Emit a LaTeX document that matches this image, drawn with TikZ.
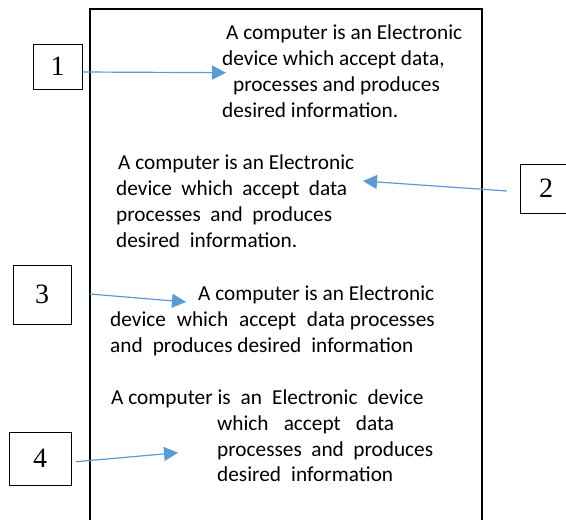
\documentclass[tikz,border=0pt]{standalone}
\usepackage{fontspec}
\setmainfont{Carlito}
\newfontfamily\numfont{Liberation Serif}
\usetikzlibrary{arrows.meta}
\definecolor{arrowblue}{RGB}{91,155,213}
% stretch the blanks of a line to a given width
\newcommand\stretchline[2]{\makebox[#1pt][s]{#2}}
% a doubled blank between words
\newcommand\wgap{\hspace{10pt}}

\begin{document}
\begin{tikzpicture}[x=1pt,y=-1pt,
  frame/.style={line width=1.8pt},
  numbox/.style={draw, line width=1pt, inner sep=0pt,
    font=\numfont\fontsize{28}{28}\selectfont},
  pointer/.style={draw=arrowblue, line width=1.2pt,
    -{Triangle[length=14pt,width=14pt]}},
  txt/.style={anchor=base west, inner sep=0pt,
    font=\fontsize{21.3}{26}\selectfont}]
\useasboundingbox (0,0) rectangle (566,520);
\begin{scope}
\clip (0,0) rectangle (566,520);

% page outline, open at the bottom
\draw[frame] (90,530) -- (90,9) -- (482,9) -- (482,530);

% numbered tags
\node[numbox, minimum width=49pt, minimum height=45pt] (n1) at (57.5,66.5) {1};
\node[numbox, minimum width=52pt, minimum height=49pt] (n2) at (546,188.5) {2};
\node[numbox, minimum width=58pt, minimum height=59pt] (n3) at (42,294.5) {3};
\node[numbox, minimum width=62pt, minimum height=53pt] (n4) at (40,458.5) {4};

% paragraph 1
\node[txt] (p1a) at (226,39)  {A computer is an Electronic};
\node[txt] (p1b) at (222,65)  {device which accept data,};
\node[txt] (p1c) at (233,91)  {processes and produces};
\node[txt] (p1d) at (222,117) {desired information.};

% paragraph 2
\node[txt] (p2a) at (118,169) {A computer is an Electronic};
\node[txt] (p2b) at (116,195) {\stretchline{231}{device which accept data}};
\node[txt] (p2c) at (116,221) {\stretchline{216}{processes and produces}};
\node[txt] (p2d) at (116,247) {\stretchline{181}{desired information.}};

% paragraph 3
\node[txt] (p3a) at (198,300) {A computer is an Electronic};
\node[txt] (p3b) at (110,326) {\stretchline{235}{device which accept data}\ processes};
\node[txt] (p3c) at (110,352) {and\wgap produces desired\wgap information};

% paragraph 4
\node[txt] (p4a) at (111,404) {A computer is\wgap an\wgap Electronic\wgap device};
\node[txt] (p4b) at (217,430) {\stretchline{177}{which accept data}};
\node[txt] (p4c) at (217,456) {\stretchline{216}{processes and produces}};
\node[txt] (p4d) at (217,481) {\stretchline{176}{desired information}};

% pointer ends
\coordinate (t1) at (226,72.7);
\coordinate (s2) at (507,191);
\coordinate (t2) at (363,181);
\coordinate (s3) at (90,294);
\coordinate (t3) at (186,302);
\coordinate (s4) at (76,461.7);
\coordinate (t4) at (178,452.7);

% pointers
\draw[pointer] ([yshift=-5.5pt]n1.east) -- (t1);
\draw[pointer] (s2) -- (t2);
\draw[pointer] (s3) -- (t3);
\draw[pointer] (s4) -- (t4);
\end{scope}
\end{tikzpicture}
\end{document}
